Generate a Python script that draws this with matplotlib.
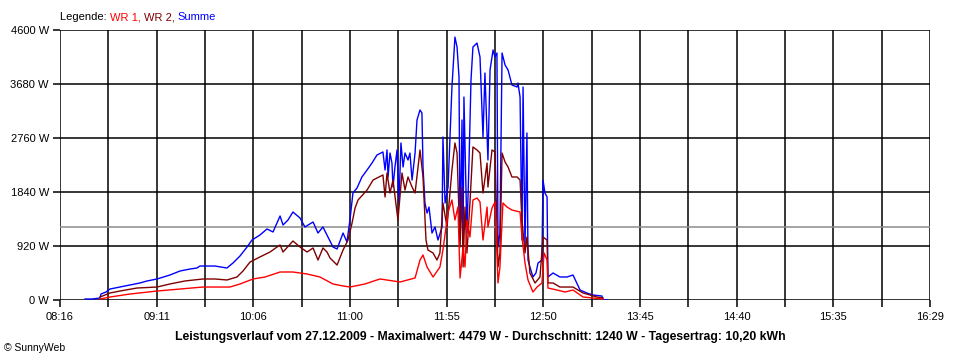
import matplotlib
matplotlib.use("Agg")
import matplotlib.pyplot as plt
import numpy as np

plt.rcParams['font.family'] = ['Liberation Sans', 'DejaVu Sans']

# ---- data (time in minutes since midnight, power in W) ----
t_sum = [510.2, 514.1, 518.7, 519.2, 522.1, 524.3, 530.0, 535.7, 541.3, 545.3, 551.0, 558.3, 564.0, 569.7,
         573.6, 575.3, 583.8, 590.6, 594.0, 598.0, 602.0, 604.8, 609.3, 613.3, 616.7, 620.7, 622.4, 625.2,
         628.0, 632.0, 634.8, 639.4, 642.2, 645.0, 650.7, 653.0, 656.4, 658.6, 660.3, 662.0, 664.3, 667.1,
         670.0, 672.8, 675.6, 679.0, 680.2, 681.3, 681.9, 683.0, 684.1, 684.7, 685.8, 687.0, 688.1, 689.2,
         690.4, 691.5, 693.2, 694.3, 695.5, 697.2, 698.3, 700.0, 701.1, 701.7, 702.8, 704.0, 705.1, 706.8,
         708.5, 710.2, 712.5, 713.0, 714.2, 715.9, 718.1, 718.7, 719.8, 721.0, 722.1, 722.7, 723.8, 724.4,
         724.9, 726.6, 727.8, 728.9, 730.0, 732.3, 734.0, 735.7, 736.8, 738.5, 739.7, 741.4, 742.5, 743.6,
         744.2, 745.3, 746.5, 748.2, 749.9, 752.1, 755.0, 755.5, 756.7, 757.8, 758.4, 759.5, 760.6, 761.2,
         762.3, 764.0, 765.7, 766.9, 769.1, 769.7, 770.8, 772.0, 772.5, 775.4, 779.3, 783.3, 786.7, 790.7,
         794.6, 798.0, 803.1, 803.7, 806.0]
p_sum = [17, 17, 34, 102, 136, 187, 221, 256, 290, 324, 358, 426, 494, 528,
         545, 579, 579, 545, 630, 750, 903, 1022, 1107, 1210, 1159, 1431, 1278, 1363,
         1499, 1397, 1244, 1329, 1141, 1244, 903, 869, 1141, 988, 1363, 1823, 1908, 2096,
         2215, 2334, 2470, 2522, 2215, 2556, 2096, 2504, 2334, 1925, 2266, 2556, 1653, 2675,
         2266, 2504, 2385, 2504, 2044, 2504, 3067, 3237, 3186, 2266, 1653, 1482, 1584, 1141,
         1244, 1022, 1244, 2777, 1653, 1925, 3629, 3919, 4479, 4310, 3799, 1022, 3067, 903,
         3458, 1141, 2385, 3748, 4310, 4378, 4140, 2777, 3867, 2385, 3919, 4259, 4140, 4208,
         903, 1141, 4208, 4004, 3919, 3663, 3629, 3697, 3458, 1022, 3629, 903, 2845, 681,
         562, 392, 460, 630, 681, 2044, 1823, 1755, 392, 460, 392, 392, 426, 170,
         119, 85, 68, 0, 0]

t_wr2 = [518.7, 524.3, 530.0, 539.6, 551.0, 558.3, 566.8, 577.0, 583.8, 590.6, 596.3, 599.7, 603.7, 609.3,
         615.0, 619.0, 620.7, 622.4, 628.0, 632.0, 636.0, 639.4, 642.2, 645.0, 647.3, 649.0, 653.0, 656.4,
         659.2, 661.5, 663.2, 664.9, 670.0, 673.4, 679.0, 680.2, 681.3, 683.0, 684.7, 687.5, 689.8, 691.5,
         693.2, 695.5, 697.2, 700.0, 701.7, 703.4, 704.5, 707.4, 709.6, 711.3, 713.0, 715.3, 718.1, 719.8,
         721.0, 722.7, 723.8, 724.4, 725.5, 726.6, 728.3, 730.0, 732.3, 734.0, 735.7, 738.0, 738.5, 740.8,
         742.5, 744.2, 745.3, 746.5, 748.2, 749.9, 752.1, 755.0, 756.7, 757.8, 759.5, 760.6, 762.3, 765.2,
         768.0, 769.7, 772.0, 772.5, 775.4, 779.3, 786.7, 792.4, 800.3, 803.7]
p_wr2 = [51, 119, 153, 204, 221, 273, 324, 358, 358, 341, 392, 494, 647, 733,
         818, 903, 937, 818, 1005, 903, 818, 886, 681, 886, 818, 716, 596, 852,
         1022, 1312, 1567, 1704, 1874, 2044, 2130, 1755, 2164, 1823, 2044, 1363, 2164, 1874,
         2096, 1925, 1823, 2556, 2096, 1022, 852, 801, 681, 801, 1653, 1244, 2215, 2675,
         2504, 903, 1925, 562, 1584, 801, 1653, 2607, 2556, 2504, 1823, 2334, 1925, 2556,
         2522, 562, 801, 2504, 2351, 2266, 2096, 2096, 2044, 1363, 801, 1073, 460, 290,
         392, 1073, 1022, 290, 290, 221, 221, 119, 51, 34]

t_wr1 = [518.7, 524.3, 535.7, 551.0, 564.0, 577.0, 592.3, 598.0, 605.4, 612.2, 620.7, 628.0, 636.0, 643.3,
         650.7, 656.4, 660.3, 668.8, 677.3, 688.7, 697.2, 700.0, 701.7, 704.0, 707.4, 711.3, 713.0, 715.9,
         718.1, 719.8, 721.5, 722.7, 724.4, 725.5, 726.6, 728.3, 730.0, 732.3, 734.0, 735.7, 738.0, 738.5,
         740.8, 742.5, 744.2, 745.3, 747.0, 749.3, 752.1, 756.7, 757.8, 759.5, 761.2, 764.0, 766.3, 769.1,
         770.3, 772.0, 772.5, 777.6, 782.2, 786.7, 792.4, 803.7]
p_wr1 = [17, 51, 102, 153, 187, 221, 221, 273, 358, 392, 477, 477, 443, 392,
         273, 239, 221, 273, 358, 307, 375, 681, 767, 562, 392, 562, 852, 1499,
         1704, 1363, 1584, 375, 903, 562, 1363, 1073, 1704, 1738, 1670, 1022, 1584, 1244,
         1567, 1670, 290, 562, 1653, 1584, 1533, 1499, 1073, 630, 341, 136, 221, 290,
         801, 681, 204, 170, 136, 170, 51, 17]

average_w = 1240
y_ticks = [0, 920, 1840, 2760, 3680, 4600]
y_labels = ["0 W", "920 W", "1840 W", "2760 W", "3680 W", "4600 W"]
x_start, x_end = 496, 989  # 08:16 .. 16:29
x_labels = ["08:16", "09:11", "10:06", "11:00", "11:55", "12:50", "13:45", "14:40", "15:35", "16:29"]

title = "Leistungsverlauf vom 27.12.2009 - Maximalwert: 4479 W - Durchschnitt: 1240 W - Tagesertrag: 10,20 kWh"

# ---- figure ----
W, H = 960, 360
fig = plt.figure(figsize=(W / 100, H / 100), dpi=100)
ax = fig.add_axes([60 / W, 1 - 300 / H, 870 / W, 270 / H])

ax.set_xlim(x_start, x_end)
ax.set_ylim(0, 4600)

grid_x = np.linspace(x_start, x_end, 19)
ax.set_xticks(grid_x[::2])
ax.set_xticklabels(x_labels)
ax.set_xticks(grid_x[1::2], minor=True)
ax.set_yticks(y_ticks)
ax.set_yticklabels(y_labels)

for gx in grid_x:
    ax.axvline(gx, color='black', lw=1.1, zorder=1)
for gy in y_ticks:
    ax.axhline(gy, color='black', lw=1.1, zorder=1)

ax.plot(t_sum, p_sum, color='#0000ff', lw=1.0, zorder=3)
ax.plot(t_wr2, p_wr2, color='#800000', lw=1.0, zorder=4)
ax.plot(t_wr1, p_wr1, color='#ff0000', lw=1.0, zorder=5)
ax.axhline(average_w, color='#8c8c8c', lw=1.1, zorder=2)

for s in ax.spines.values():
    s.set_visible(False)
ax.tick_params(axis='both', which='both', direction='out', length=5, width=1.1, color='black',
               labelsize=8, pad=3)
ax.tick_params(axis='x', which='major', pad=4)

fig.text(480 / W, 1 - 337 / H, title, ha='center', va='center', fontsize=8.8, fontweight='bold')
fig.text(4 / W, 1 - 348 / H, "\u00a9 SunnyWeb", ha='left', va='center', fontsize=7.5)

# legend text pieces
fig.canvas.draw()
renderer = fig.canvas.get_renderer()
parts = [("Legende: ", 'black'), ("WR 1, ", '#ff0000'), ("WR 2, ", '#800000'), ("Summe", '#0000ff')]
xpos = 60.0
for txt, col in parts:
    t = fig.text(xpos / W, 1 - 17 / H, txt, ha='left', va='center', fontsize=8, color=col)
    bb = t.get_window_extent(renderer=renderer)
    xpos += bb.width

fig.savefig("out.png", dpi=100)
